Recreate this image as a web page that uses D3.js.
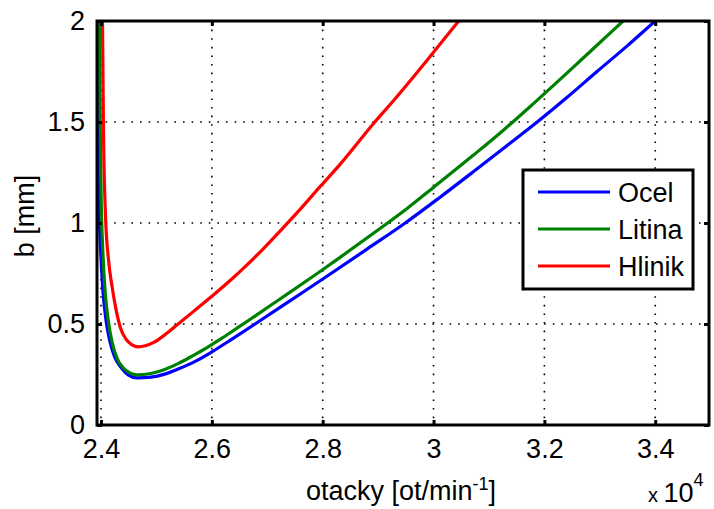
<!DOCTYPE html>
<html><head><meta charset="utf-8">
<script src="https://cdn.jsdelivr.net/npm/d3@7"></script>
<style>
html,body{margin:0;padding:0;background:#fff;}
text{font-family:"Liberation Sans",Arial,sans-serif;fill:#000;}
</style></head>
<body><svg id="c" width="714" height="509"></svg>
<script>
// ---- data (rpm, b [mm]) ----
const ocelRpm = [23937,23948,23966,23996,24036,24090,24160,24250,24360,24490,24650,24900,25150,25400,25700,26000,26350,26780,27450,28150,28800,29490,30100,30700,31300,31870,32400,32950,33500,34000,34050];
const ocelB   = [2.000,1.500,1.100,0.850,0.660,0.520,0.415,0.335,0.285,0.248,0.233,0.237,0.252,0.278,0.315,0.362,0.423,0.500,0.622,0.750,0.871,1.000,1.124,1.250,1.378,1.500,1.620,1.750,1.878,2.000,2.012];
const litinaRpm = [23973,23985,24005,24035,24075,24130,24200,24290,24400,24520,24650,24900,25150,25400,25650,25913,26200,26500,26870,27231,27600,27953,28314,28910,29523,29993,30715,31292,31798,32411,33007,33440,33500];
const litinaB   = [2.000,1.500,1.100,0.850,0.660,0.520,0.410,0.330,0.283,0.258,0.248,0.255,0.275,0.305,0.342,0.383,0.433,0.488,0.556,0.624,0.693,0.760,0.830,0.948,1.072,1.175,1.335,1.467,1.590,1.743,1.895,2.005,2.020];
const hlinikRpm = [24027,24045,24081,24135,24200,24262,24352,24450,24560,24668,24800,24960,25150,25380,25700,26022,26350,26635,26950,27231,27600,27953,28314,28910,29307,29866,30426,30480];
const hlinikB   = [2.000,1.460,1.040,0.820,0.685,0.585,0.480,0.425,0.397,0.387,0.392,0.410,0.446,0.497,0.569,0.642,0.720,0.793,0.878,0.960,1.070,1.180,1.290,1.490,1.615,1.800,1.990,2.008];

const seriesNames  = ["Ocel","Litina","Hlinik"];
const seriesColors = ["#0000ff","#008000","#ff0000"];
const xTicks = [24000,26000,28000,30000,32000,34000];
const xTickLabels = ["2.4","2.6","2.8","3","3.2","3.4"];
const yTicks = [0,0.5,1,1.5,2];
const yTickLabels = ["0","0.5","1","1.5","2"];
const xDomain = [23928, 34970];
const yDomain = [0, 2];

const series = [
  {name:seriesNames[0], color:seriesColors[0], pts:ocelRpm.map((r,i)=>[r,ocelB[i]])},
  {name:seriesNames[1], color:seriesColors[1], pts:litinaRpm.map((r,i)=>[r,litinaB[i]])},
  {name:seriesNames[2], color:seriesColors[2], pts:hlinikRpm.map((r,i)=>[r,hlinikB[i]])}
];

const svg = d3.select("#c");
const L=97, R=709, T=21, B=425;
const x = d3.scaleLinear().domain(xDomain).range([L,R]);
const y = d3.scaleLinear().domain(yDomain).range([B,T]);

svg.append("defs").append("clipPath").attr("id","clip")
  .append("rect").attr("x",L).attr("y",T).attr("width",R-L).attr("height",B-T);

// grid
const grid = svg.append("g");
xTicks.forEach(t=>{
  grid.append("line").attr("x1",x(t)).attr("x2",x(t)).attr("y1",T).attr("y2",B)
    .attr("stroke","#000").attr("stroke-width",1.6).attr("stroke-dasharray","1.6,7");
});
yTicks.forEach(t=>{
  grid.append("line").attr("x1",L).attr("x2",R).attr("y1",y(t)).attr("y2",y(t))
    .attr("stroke","#000").attr("stroke-width",1.6).attr("stroke-dasharray","1.6,7");
});

// curves
const line = d3.line().x(d=>x(d[0])).y(d=>y(d[1])).curve(d3.curveMonotoneX);
const cg = svg.append("g").attr("clip-path","url(#clip)");
series.forEach(s=>{
  cg.append("path").attr("d",line(s.pts)).attr("fill","none")
    .attr("stroke",s.color).attr("stroke-width",3.2).attr("stroke-linejoin","round");
});

// axes (ticks inward on all sides)
const xb = d3.axisBottom(x).tickValues(xTicks).tickSize(-5).tickPadding(14).tickFormat((d,i)=>xTickLabels[i]);
const xt = d3.axisTop(x).tickValues(xTicks).tickSize(-5).tickFormat("");
const yl = d3.axisLeft(y).tickValues(yTicks).tickSize(-5).tickPadding(12).tickFormat((d,i)=>yTickLabels[i]);
const yr = d3.axisRight(y).tickValues(yTicks).tickSize(-5).tickFormat("");
function style(g){
  g.select(".domain").attr("stroke","#000").attr("stroke-width",3);
  g.selectAll(".tick line").attr("stroke","#000").attr("stroke-width",3);
  g.selectAll(".tick text").attr("font-size",27).attr("font-family","Liberation Sans, Arial, sans-serif").attr("fill","#000");
}
svg.append("g").attr("transform",`translate(0,${B})`).call(xb).call(style);
svg.append("g").attr("transform",`translate(0,${T})`).call(xt).call(style);
svg.append("g").attr("transform",`translate(${L},0)`).call(yl).call(style);
svg.append("g").attr("transform",`translate(${R},0)`).call(yr).call(style);
svg.selectAll("path.domain").attr("d",null);
svg.append("rect").attr("x",L).attr("y",T).attr("width",R-L).attr("height",B-T)
  .attr("fill","none").attr("stroke","#000").attr("stroke-width",3);

// axis titles
const xl = svg.append("text").attr("x",401).attr("y",500).attr("text-anchor","middle").attr("font-size",27);
xl.append("tspan").text("otacky [ot/min");
xl.append("tspan").attr("font-size",18).attr("dy",-10).text("-1");
xl.append("tspan").attr("dy",10).text("]");
svg.append("text").attr("transform","translate(34,216) rotate(-90)").attr("text-anchor","middle")
  .attr("font-size",27).text("b [mm]");
const ex = svg.append("text").attr("x",648).attr("y",502).attr("font-size",27);
ex.append("tspan").attr("font-size",20).text("x ");
ex.append("tspan").text("10");
ex.append("tspan").attr("font-size",18).attr("dy",-16).text("4");

// legend
const lg = svg.append("g");
lg.append("rect").attr("x",523).attr("y",170).attr("width",170).attr("height",119)
  .attr("fill","#fff").attr("stroke","#000").attr("stroke-width",3);
series.forEach((s,i)=>{
  const yy = 192 + i*37;
  lg.append("line").attr("x1",538).attr("x2",610).attr("y1",yy).attr("y2",yy)
    .attr("stroke",s.color).attr("stroke-width",3.2);
  lg.append("text").attr("x",618).attr("y",yy+10).attr("font-size",27).text(s.name);
});
</script></body></html>
